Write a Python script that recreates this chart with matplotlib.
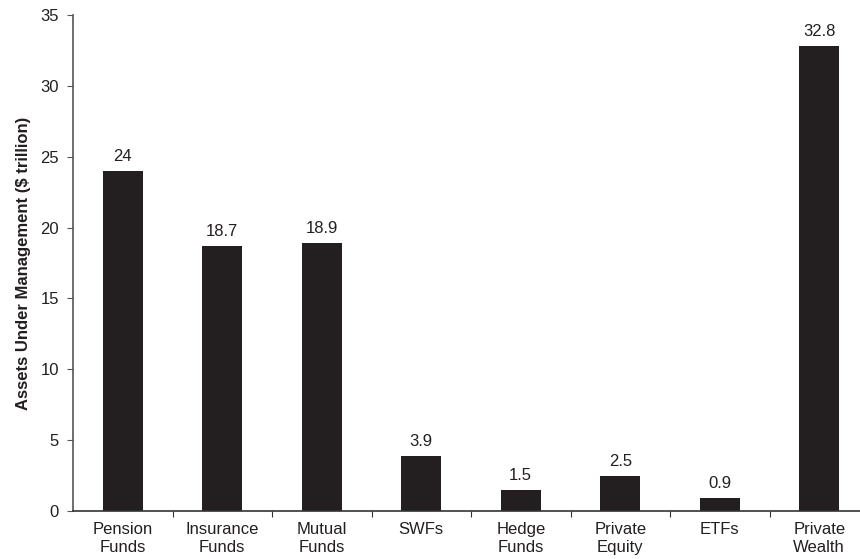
import numpy as np
import matplotlib
matplotlib.use("Agg")
import matplotlib.pyplot as plt

categories = ["Pension\nFunds", "Insurance\nFunds", "Mutual\nFunds", "SWFs",
              "Hedge\nFunds", "Private\nEquity", "ETFs", "Private\nWealth"]
aum = [24, 18.7, 18.9, 3.9, 1.5, 2.5, 0.9, 32.8]
value_labels = ["24", "18.7", "18.9", "3.9", "1.5", "2.5", "0.9", "32.8"]

plt.rcParams["font.family"] = ["Liberation Sans", "DejaVu Sans"]

fig = plt.figure(figsize=(8.6, 5.59), dpi=100)
ax = fig.add_axes([73 / 860, 1 - 511 / 559, 796 / 860, 496 / 559])

x = np.arange(len(categories))
ax.bar(x, aum, width=0.4, color="#231f20")

for xi, v, lab in zip(x, aum, value_labels):
    ax.annotate(lab, (xi, v), xytext=(0, 5), textcoords="offset points",
                ha="center", va="bottom", fontsize=12, color="#231f20")

ax.set_xlim(-0.5, len(categories) - 0.5)
ax.set_ylim(0, 35)
ax.set_yticks(range(0, 36, 5))

# boundary ticks without labels, category names on minor ticks
ax.set_xticks(x[:-1] + 0.5)
ax.set_xticklabels([])
ax.set_xticks(x, minor=True)
ax.set_xticklabels(categories, minor=True, fontsize=12, color="#231f20",
                   linespacing=1.2)
ax.tick_params(axis="x", which="minor", length=0, pad=8)
ax.tick_params(axis="x", which="major", length=4, direction="out", color="#333333")
ax.tick_params(axis="y", length=4, color="#555555", labelsize=12,
               labelcolor="#231f20", pad=6)

for s in ["top", "right"]:
    ax.spines[s].set_visible(False)
ax.spines["left"].set_color("#555555")
ax.spines["bottom"].set_color("#333333")
ax.spines["left"].set_linewidth(1.2)
ax.spines["bottom"].set_linewidth(1.2)

ax.set_ylabel("Assets Under Management ($ trillion)", fontsize=12,
              fontweight="bold", color="#231f20", labelpad=7)

fig.savefig("out.png", dpi=100)
